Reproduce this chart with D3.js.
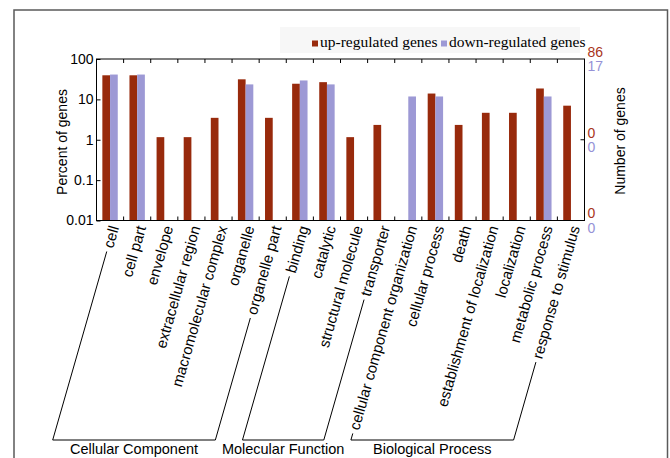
<!DOCTYPE html>
<html>
<head>
<meta charset="utf-8">
<script src="https://cdn.jsdelivr.net/npm/d3@7"></script>
<style>
  body { margin: 0; background: #fff; }
  text { font-family: "Liberation Sans", Arial, sans-serif; }
</style>
</head>
<body>
<script>
// GO categories, in drawing order
var categories = ['cell', 'cell part', 'envelope', 'extracellular region', 'macromolecular complex',
  'organelle', 'organelle part', 'binding', 'catalytic', 'structural molecule', 'transporter',
  'cellular component organization', 'cellular process', 'death', 'establishment of localization',
  'localization', 'metabolic process', 'response to stimulus'];

// percent of genes (null = no bar)
var upValues = [39.5, 39.5, 1.16, 1.16, 3.49, 31.4, 3.49, 24.4, 26.7, 1.16, 2.33, null,
  13.95, 2.33, 4.65, 4.65, 18.6, 6.98];
var downValues = [41.2, 41.2, null, null, null, 23.5, null, 29.4, 23.5, null, null, 11.8,
  11.8, null, null, null, 11.8, null];

var seriesNames = ['up-regulated genes', 'down-regulated genes'];
var leftTicks = [0.01, 0.1, 1, 10, 100];
var leftTickLabels = ['0.01', '0.1', '1', '10', '100'];
// right axis: gene counts placed at these percent positions
var rightTickPos = [100, 1, 0.01];
var upCountLabels = ['86', '0', '0'];
var downCountLabels = ['17', '0', '0'];

var groups = [
  { name: 'Cellular Component', first: 0, last: 6 },
  { name: 'Molecular Function', first: 7, last: 10 },
  { name: 'Biological Process', first: 11, last: 17 }
];

var upColor = '#982a0c', downColor = '#9d99d5';
var upText = '#a8341a', downText = '#9591d6';

var svg = d3.select('body').append('svg')
  .attr('width', 670)
  .attr('height', 458);

// outer frame
svg.append('rect')
  .attr('x', 14).attr('y', 10)
  .attr('width', 653.5).attr('height', 520)
  .attr('fill', 'none').attr('stroke', '#5a5a5a').attr('stroke-width', 1.5);

// faint box behind legend
svg.append('rect')
  .attr('x', 280).attr('y', 27).attr('width', 300).attr('height', 26)
  .attr('fill', '#f7f7f7');

var x0 = 96.5, x1 = 584.5, yTop = 59, yBot = 220.5;

var x = d3.scaleBand().domain(categories).range([x0, x1]);
var sub = d3.scaleBand().domain(['up', 'down']).range([0, x.bandwidth()]).paddingOuter(0.76);
var y = d3.scaleLog().domain([0.01, 100]).range([yBot, yTop]);

// bars
var rows = categories.map(function(c, i) {
  return { cat: c, up: upValues[i], down: downValues[i] };
});

var g = svg.append('g');
rows.forEach(function(r) {
  [['up', r.up, upColor], ['down', r.down, downColor]].forEach(function(s) {
    if (s[1] == null) return;
    g.append('rect')
      .attr('x', x(r.cat) + sub(s[0]))
      .attr('width', sub.bandwidth())
      .attr('y', y(s[1]))
      .attr('height', yBot - y(s[1]))
      .attr('fill', s[2]);
  });
});

// frame of the plot
svg.append('rect')
  .attr('x', x0).attr('y', yTop)
  .attr('width', x1 - x0).attr('height', yBot - yTop)
  .attr('fill', 'none').attr('stroke', '#000').attr('stroke-width', 1);

// left axis
var leftAxis = d3.axisLeft(y)
  .tickValues(leftTicks)
  .tickFormat(function(d, i) { return leftTickLabels[i]; })
  .tickSizeInner(-4).tickSizeOuter(0).tickPadding(3);
var la = svg.append('g').attr('transform', 'translate(' + x0 + ',0)').call(leftAxis);
la.select('.domain').remove();
la.selectAll('text').attr('font-size', 14).attr('fill', '#000').attr('font-family', 'Liberation Sans, Arial, sans-serif');

// category boundary ticks on top and bottom
var bounds = categories.slice(1).map(function(c) { return x(c); });
svg.selectAll('.tt').data(bounds).enter().append('line')
  .attr('x1', function(d) { return d; }).attr('x2', function(d) { return d; })
  .attr('y1', yTop).attr('y2', yTop + 4).attr('stroke', '#000');
svg.selectAll('.bt').data(bounds).enter().append('line')
  .attr('x1', function(d) { return d; }).attr('x2', function(d) { return d; })
  .attr('y1', yBot).attr('y2', yBot - 4).attr('stroke', '#000');

// right axis tick and count labels
svg.append('line')
  .attr('x1', x1).attr('x2', x1 - 4)
  .attr('y1', y(1)).attr('y2', y(1)).attr('stroke', '#000');
rightTickPos.forEach(function(p, i) {
  svg.append('text').attr('x', x1 + 3).attr('y', y(p) - 7).attr('dy', '0.35em')
    .attr('font-size', 14).attr('fill', upText).text(upCountLabels[i]);
  svg.append('text').attr('x', x1 + 3).attr('y', y(p) + 7.5).attr('dy', '0.35em')
    .attr('font-size', 14).attr('fill', downText).text(downCountLabels[i]);
});

// axis titles
svg.append('text')
  .attr('transform', 'translate(62,142) rotate(-90)')
  .attr('text-anchor', 'middle').attr('dy', '0.35em')
  .attr('font-size', 14).text('Percent of genes');
svg.append('text')
  .attr('transform', 'translate(620,141) rotate(-90)')
  .attr('text-anchor', 'middle').attr('dy', '0.35em')
  .attr('font-size', 14).text('Number of genes');

// legend
var legend = svg.append('g');
legend.append('rect').attr('x', 312).attr('y', 40.5).attr('width', 6).attr('height', 6).attr('fill', upColor);
legend.append('text').attr('x', 320).attr('y', 47).attr('font-size', 15.5)
  .style('font-family', 'Liberation Serif, serif').text(seriesNames[0]);
legend.append('rect').attr('x', 441).attr('y', 40.5).attr('width', 6).attr('height', 6).attr('fill', downColor);
legend.append('text').attr('x', 449).attr('y', 47).attr('font-size', 15.5)
  .style('font-family', 'Liberation Serif, serif').text(seriesNames[1]);

// rotated category labels
var ang = 74, rad = ang * Math.PI / 180;
var labelY = 226;
var starts = [];
categories.forEach(function(c, i) {
  var ax = x(c) + x.bandwidth() / 2 + 4;
  var t = svg.append('text')
    .attr('transform', 'translate(' + ax + ',' + labelY + ') rotate(' + (-ang) + ')')
    .attr('text-anchor', 'end').attr('dy', '0.35em')
    .attr('font-size', 15).text(c);
  var L = t.node().getComputedTextLength() + 4;
  starts.push([ax - L * Math.cos(rad), labelY + L * Math.sin(rad)]);
});

// group brackets
var yBr = 440;
function down(p) { return [p[0] - (yBr - p[1]) / Math.tan(rad), yBr]; }
groups.forEach(function(gr) {
  var a = starts[gr.first], b = starts[gr.last];
  var pts = [a, down(a), down(b), b];
  svg.append('path')
    .attr('d', d3.line()(pts))
    .attr('fill', 'none').attr('stroke', '#000').attr('stroke-width', 1);
  svg.append('text')
    .attr('x', (down(a)[0] + down(b)[0]) / 2).attr('y', 454)
    .attr('text-anchor', 'middle').attr('font-size', 14.5).text(gr.name);
});
</script>
</body>
</html>
